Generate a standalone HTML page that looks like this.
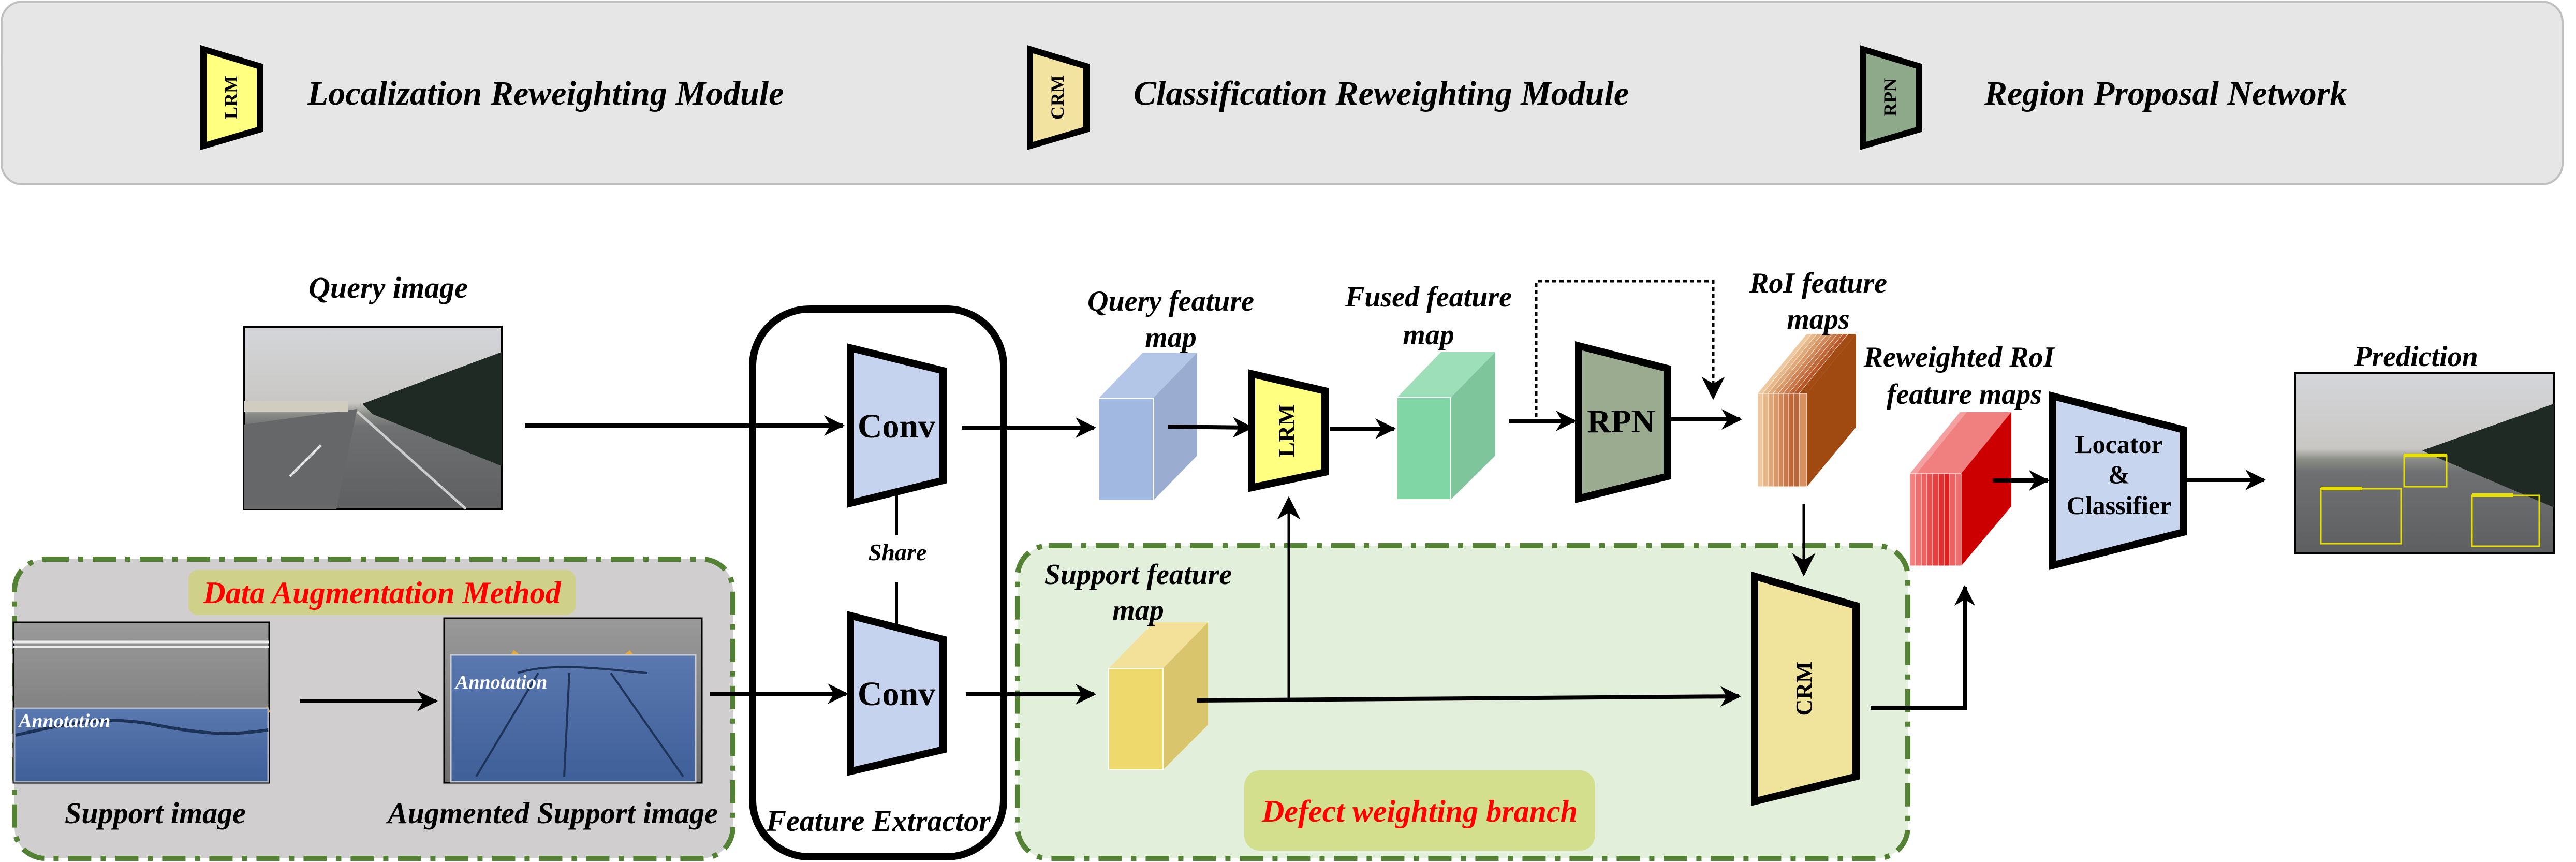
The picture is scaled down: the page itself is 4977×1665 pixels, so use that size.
<!DOCTYPE html>
<html><head><meta charset="utf-8"><style>
html,body{margin:0;padding:0;background:#fff;}
svg{display:block;}
text{font-family:"Liberation Serif","Times New Roman",serif;font-weight:bold;font-style:italic;}
</style></head><body>
<svg width="4977" height="1665" viewBox="0 0 4977 1665" xmlns="http://www.w3.org/2000/svg" font-family="Liberation Serif, serif">
<defs>
<marker id="ah" viewBox="0 0 10 10" refX="9" refY="5" markerWidth="5" markerHeight="5" orient="auto" markerUnits="strokeWidth"><path d="M0,0 L10,5 L0,10 L3,5 z" fill="#000"/></marker>
<marker id="ah2" viewBox="0 0 10 10" refX="9" refY="5" markerWidth="9" markerHeight="9" orient="auto" markerUnits="strokeWidth"><path d="M0,0 L10,5 L0,10 L3,5 z" fill="#000"/></marker>
<linearGradient id="sky" x1="0" y1="0" x2="0" y2="1"><stop offset="0" stop-color="#d4d6da"/><stop offset="0.42" stop-color="#c9c7c4"/><stop offset="0.48" stop-color="#8a8c86"/><stop offset="0.55" stop-color="#6f7072"/><stop offset="1" stop-color="#5e5f61"/></linearGradient>
<linearGradient id="gry" x1="0" y1="0" x2="0" y2="1"><stop offset="0" stop-color="#9a9a9a"/><stop offset="1" stop-color="#6e6e6e"/></linearGradient>
<linearGradient id="blu" x1="0" y1="0" x2="0" y2="1"><stop offset="0" stop-color="#5a78b0"/><stop offset="1" stop-color="#3f5f98"/></linearGradient>
</defs>

<!-- legend -->
<rect x="3" y="3" width="4948" height="353" rx="40" fill="#e7e6e6" stroke="#bfbfbf" stroke-width="4"/>
<polygon points="393,95 502,128 502,250 393,282" fill="#ffff80" stroke="#000" stroke-width="12" stroke-linejoin="miter"/>
<text transform="translate(458,188) rotate(-90)" text-anchor="middle" font-size="36" style="font-style:normal">LRM</text>
<text x="594" y="202" font-size="66">Localization Reweighting Module</text>
<polygon points="1990,95 2099,128 2099,250 1990,282" fill="#f3e3a0" stroke="#000" stroke-width="12"/>
<text transform="translate(2055,188) rotate(-90)" text-anchor="middle" font-size="36" style="font-style:normal">CRM</text>
<text x="2190" y="202" font-size="66">Classification Reweighting Module</text>
<polygon points="3599,95 3708,128 3708,250 3599,282" fill="#8ea88a" stroke="#000" stroke-width="12"/>
<text transform="translate(3664,188) rotate(-90)" text-anchor="middle" font-size="36" style="font-style:normal">RPN</text>
<text x="3834" y="202" font-size="66">Region Proposal Network</text>

<!-- data augmentation box -->
<rect x="28" y="1080" width="1388" height="578" rx="60" fill="#d0cece" stroke="#548235" stroke-width="10" stroke-dasharray="45 18 10 18"/>
<!-- defect box -->
<rect x="1966" y="1054" width="1720" height="604" rx="60" fill="#e2efda" stroke="#548235" stroke-width="10" stroke-dasharray="45 18 10 18"/>
<rect x="364" y="1101" width="748" height="87" rx="18" fill="#cfd08a"/>
<text x="738" y="1165" text-anchor="middle" font-size="60" fill="#ff0000">Data Augmentation Method</text>
<rect x="2404" y="1488" width="678" height="155" rx="30" fill="#d4df8e"/>
<text x="2743" y="1587" text-anchor="middle" font-size="60" fill="#ff0000">Defect weighting branch</text>

<!-- feature extractor -->
<rect x="1454" y="597" width="485" height="1058" rx="110" fill="none" stroke="#000" stroke-width="14"/>
<polygon points="1643,672 1822,716 1822,928 1643,972" fill="#c5d3ee" stroke="#000" stroke-width="14"/>
<text x="1732" y="845" text-anchor="middle" font-size="66" style="font-style:normal">Conv</text>
<polygon points="1643,1189 1822,1235 1822,1448 1643,1490" fill="#c5d3ee" stroke="#000" stroke-width="14"/>
<text x="1732" y="1362" text-anchor="middle" font-size="66" style="font-style:normal">Conv</text>
<line x1="1732" y1="955" x2="1732" y2="1033" stroke="#000" stroke-width="6"/>
<line x1="1732" y1="1124" x2="1732" y2="1207" stroke="#000" stroke-width="6"/>
<text x="1734" y="1082" text-anchor="middle" font-size="46">Share</text>
<text x="1697" y="1605" text-anchor="middle" font-size="58">Feature Extractor</text>

<!-- query image -->
<text x="750" y="575" text-anchor="middle" font-size="58">Query image</text>
<rect x="472" y="631" width="497" height="352" fill="url(#sky)" stroke="#000" stroke-width="4"/>
<polygon points="700,780 969,680 969,900 720,800" fill="#1f2a24"/>
<polygon points="472,820 690,790 650,983 472,983" fill="#666769"/>
<line x1="690" y1="795" x2="900" y2="983" stroke="#ccc" stroke-width="5"/>
<line x1="560" y1="920" x2="620" y2="860" stroke="#ddd" stroke-width="5"/>
<rect x="472" y="775" width="200" height="20" fill="#d0ccc0"/>

<!-- prediction image -->
<text x="4668" y="707" text-anchor="middle" font-size="56">Prediction</text>
<rect x="4434" y="721" width="500" height="347" fill="url(#sky)" stroke="#000" stroke-width="4"/>
<polygon points="4680,870 4934,780 4934,980 4700,880" fill="#1f2a24"/>
<rect x="4645" y="880" width="82" height="60" fill="none" stroke="#e8e000" stroke-width="3"/>
<rect x="4645" y="876" width="82" height="7" fill="#e8e000"/>
<rect x="4484" y="944" width="155" height="106" fill="none" stroke="#e8e000" stroke-width="3"/>
<rect x="4484" y="940" width="80" height="7" fill="#e8e000"/>
<rect x="4776" y="957" width="130" height="98" fill="none" stroke="#e8e000" stroke-width="3"/>
<rect x="4776" y="953" width="80" height="7" fill="#e8e000"/>

<!-- support images -->
<rect x="26" y="1202" width="494" height="310" fill="url(#gry)" stroke="#000" stroke-width="3"/>
<line x1="26" y1="1240" x2="520" y2="1240" stroke="#eee" stroke-width="5"/>
<line x1="26" y1="1250" x2="520" y2="1250" stroke="#eee" stroke-width="4"/>
<line x1="30" y1="1395" x2="130" y2="1425" stroke="#e8a830" stroke-width="12"/>
<line x1="520" y1="1370" x2="420" y2="1410" stroke="#e8a830" stroke-width="12"/>
<rect x="28" y="1368" width="490" height="142" fill="url(#blu)" stroke="#b0b8c8" stroke-width="3"/>
<path d="M30,1420 C120,1400 200,1380 300,1400 S450,1420 518,1410" stroke="#1e3358" stroke-width="6" fill="none"/>
<text x="36" y="1405" font-size="38" fill="#fff">Annotation</text>
<rect x="858" y="1194" width="498" height="318" fill="url(#gry)" stroke="#000" stroke-width="3"/>
<line x1="990" y1="1260" x2="1030" y2="1290" stroke="#e8a830" stroke-width="10"/>
<line x1="1220" y1="1260" x2="1180" y2="1290" stroke="#e8a830" stroke-width="10"/>
<rect x="871" y="1265" width="473" height="245" fill="url(#blu)" stroke="#c8ccd4" stroke-width="3"/>
<path d="M1000,1300 C1060,1280 1150,1290 1250,1300 M1040,1300 L920,1500 M1180,1300 L1320,1500 M1100,1300 L1090,1500" stroke="#1e3358" stroke-width="4" fill="none"/>
<text x="880" y="1330" font-size="38" fill="#fff">Annotation</text>
<text x="300" y="1590" text-anchor="middle" font-size="58">Support image</text>
<text x="1068" y="1590" text-anchor="middle" font-size="58">Augmented Support image</text>

<!-- arrows left -->
<g stroke="#000" stroke-width="8" fill="none">
<line x1="1014" y1="822" x2="1628" y2="822" marker-end="url(#ah)"/>
<line x1="580" y1="1354" x2="842" y2="1354" marker-end="url(#ah)"/>
<line x1="1371" y1="1340" x2="1635" y2="1340" marker-end="url(#ah)"/>
<line x1="1858" y1="826" x2="2114" y2="826" marker-end="url(#ah)"/>
<line x1="1866" y1="1341" x2="2114" y2="1341" marker-end="url(#ah)"/>
</g>

<!-- query feature map cube -->
<polygon points="2123,769 2208,681 2313,681 2228,769" fill="#b4c6e7"/>
<polygon points="2228,769 2313,681 2313,880 2228,967" fill="#9aacd0"/>
<rect x="2123" y="769" width="105" height="198" fill="#a1b8e0" stroke="#fff" stroke-width="2"/>
<text x="2262" y="600" text-anchor="middle" font-size="56">Query feature</text>
<text x="2262" y="670" text-anchor="middle" font-size="56">map</text>

<!-- LRM -->
<polygon points="2418,722 2560,755 2560,912 2418,942" fill="#ffff80" stroke="#000" stroke-width="14"/>
<text transform="translate(2500,832) rotate(-90)" text-anchor="middle" font-size="44" style="font-style:normal">LRM</text>

<!-- fused cube -->
<polygon points="2699,768 2784,680 2889,680 2803,768" fill="#9ddfb8"/>
<polygon points="2803,768 2889,680 2889,880 2803,965" fill="#7ec59c"/>
<rect x="2699" y="768" width="104" height="197" fill="#80d6a4" stroke="#fff" stroke-width="2"/>
<text x="2760" y="592" text-anchor="middle" font-size="56">Fused feature</text>
<text x="2760" y="665" text-anchor="middle" font-size="56">map</text>

<!-- RPN -->
<polygon points="3050,668 3222,712 3222,920 3050,963" fill="#9aab90" stroke="#000" stroke-width="14"/>
<text x="3132" y="835" text-anchor="middle" font-size="64" style="font-style:normal">RPN</text>

<!-- RoI stack -->
<g>
<polygon points="3396,760 3491,645 3500,645 3405,760" fill="#f0c8a0"/>
<polygon points="3406,760 3501,645 3510,645 3415,760" fill="#e8b888"/>
<polygon points="3416,760 3511,645 3520,645 3425,760" fill="#e0a878"/>
<polygon points="3426,760 3521,645 3530,645 3435,760" fill="#d89868"/>
<polygon points="3436,760 3531,645 3540,645 3445,760" fill="#d08858"/>
<polygon points="3446,760 3541,645 3550,645 3455,760" fill="#c87848"/>
<polygon points="3456,760 3551,645 3560,645 3465,760" fill="#c06838"/>
<polygon points="3466,760 3561,645 3570,645 3475,760" fill="#b85828"/>
<polygon points="3476,760 3571,645 3586,645 3491,760 3491,940 3586,825" fill="#a24c14"/>
<polygon points="3491,760 3586,645 3586,825 3491,940" fill="#a04a12"/>
<rect x="3396" y="760" width="10" height="180" fill="#f0c8a0" stroke="#fff" stroke-width="1"/>
<rect x="3406" y="760" width="10" height="180" fill="#e8b888" stroke="#fff" stroke-width="1"/>
<rect x="3416" y="760" width="10" height="180" fill="#e0a878" stroke="#fff" stroke-width="1"/>
<rect x="3426" y="760" width="10" height="180" fill="#d89868" stroke="#fff" stroke-width="1"/>
<rect x="3436" y="760" width="10" height="180" fill="#d08858" stroke="#fff" stroke-width="1"/>
<rect x="3446" y="760" width="10" height="180" fill="#c87848" stroke="#fff" stroke-width="1"/>
<rect x="3456" y="760" width="10" height="180" fill="#c06838" stroke="#fff" stroke-width="1"/>
<rect x="3466" y="760" width="10" height="180" fill="#b86838" stroke="#fff" stroke-width="1"/>
<rect x="3476" y="760" width="15" height="180" fill="#d89060" stroke="#fff" stroke-width="1"/>
</g>
<text x="3513" y="565" text-anchor="middle" font-size="56">RoI feature</text>
<text x="3513" y="635" text-anchor="middle" font-size="56">maps</text>

<!-- reweighted stack -->
<g>
<polygon points="3690,915 3787,796 3886,796 3886,978 3789,1093 3690,1093" fill="#f08080"/>
<polygon points="3789,915 3886,796 3886,978 3789,1093" fill="#cc0000"/>
<polygon points="3690,915 3787,796 3800,796 3703,915" fill="#f4a0a0"/>
<rect x="3690" y="915" width="11" height="178" fill="#f48080" stroke="#fff" stroke-width="1"/>
<rect x="3701" y="915" width="11" height="178" fill="#f07070" stroke="#fff" stroke-width="1"/>
<rect x="3712" y="915" width="11" height="178" fill="#ec6060" stroke="#fff" stroke-width="1"/>
<rect x="3723" y="915" width="11" height="178" fill="#e85050" stroke="#fff" stroke-width="1"/>
<rect x="3734" y="915" width="11" height="178" fill="#e44040" stroke="#fff" stroke-width="1"/>
<rect x="3745" y="915" width="11" height="178" fill="#e03030" stroke="#fff" stroke-width="1"/>
<rect x="3756" y="915" width="11" height="178" fill="#dc2020" stroke="#fff" stroke-width="1"/>
<rect x="3767" y="915" width="11" height="178" fill="#f06060" stroke="#fff" stroke-width="1"/>
<rect x="3778" y="915" width="11" height="178" fill="#f07070" stroke="#fff" stroke-width="1"/>
</g>
<text x="3785" y="708" text-anchor="middle" font-size="56">Reweighted RoI</text>
<text x="3795" y="780" text-anchor="middle" font-size="56">feature maps</text>

<!-- Locator -->
<polygon points="3966,765 4218,830 4218,1028 3966,1092" fill="#c8d5ee" stroke="#000" stroke-width="14"/>
<text x="4094" y="875" text-anchor="middle" font-size="50" style="font-style:normal">Locator</text>
<text x="4094" y="933" text-anchor="middle" font-size="50" style="font-style:normal">&amp;</text>
<text x="4094" y="993" text-anchor="middle" font-size="50" style="font-style:normal">Classifier</text>

<!-- support feature cube -->
<polygon points="2142,1291 2229,1202 2334,1202 2247,1291" fill="#f3e19a"/>
<polygon points="2247,1291 2334,1202 2334,1400 2247,1487" fill="#d8c56c"/>
<rect x="2142" y="1291" width="105" height="196" fill="#eed96c" stroke="#fff" stroke-width="2"/>
<text x="2199" y="1128" text-anchor="middle" font-size="56">Support feature</text>
<text x="2199" y="1197" text-anchor="middle" font-size="56">map</text>

<!-- CRM -->
<polygon points="3390,1113 3586,1170 3586,1500 3390,1548" fill="#f0e49c" stroke="#000" stroke-width="14"/>
<text transform="translate(3500,1330) rotate(-90)" text-anchor="middle" font-size="44" style="font-style:normal">CRM</text>

<!-- right arrows -->
<g stroke="#000" stroke-width="8" fill="none">
<line x1="2256" y1="824" x2="2418" y2="826" marker-end="url(#ah)"/>
<line x1="2570" y1="828" x2="2693" y2="828" marker-end="url(#ah)"/>
<line x1="2915" y1="813" x2="3042" y2="813" marker-end="url(#ah)"/>
<line x1="3225" y1="810" x2="3362" y2="810" marker-end="url(#ah)"/>
<line x1="3851" y1="928" x2="3956" y2="928" marker-end="url(#ah)"/>
<line x1="4222" y1="927" x2="4374" y2="927" marker-end="url(#ah)"/>
<line x1="2313" y1="1353" x2="3360" y2="1345" marker-end="url(#ah)"/>
<polyline points="3614,1367 3796,1367 3796,1134" marker-end="url(#ah)"/>
</g>
<g stroke="#000" stroke-width="5" fill="none">
<line x1="2490" y1="1353" x2="2490" y2="963" marker-end="url(#ah2)"/>
<line x1="3485" y1="973" x2="3485" y2="1109" marker-end="url(#ah2)"/>
<polyline points="2968,806 2968,543 3310,543 3310,768" stroke-dasharray="8 6" marker-end="url(#ah2)"/>
</g>
</svg>
</body></html>
